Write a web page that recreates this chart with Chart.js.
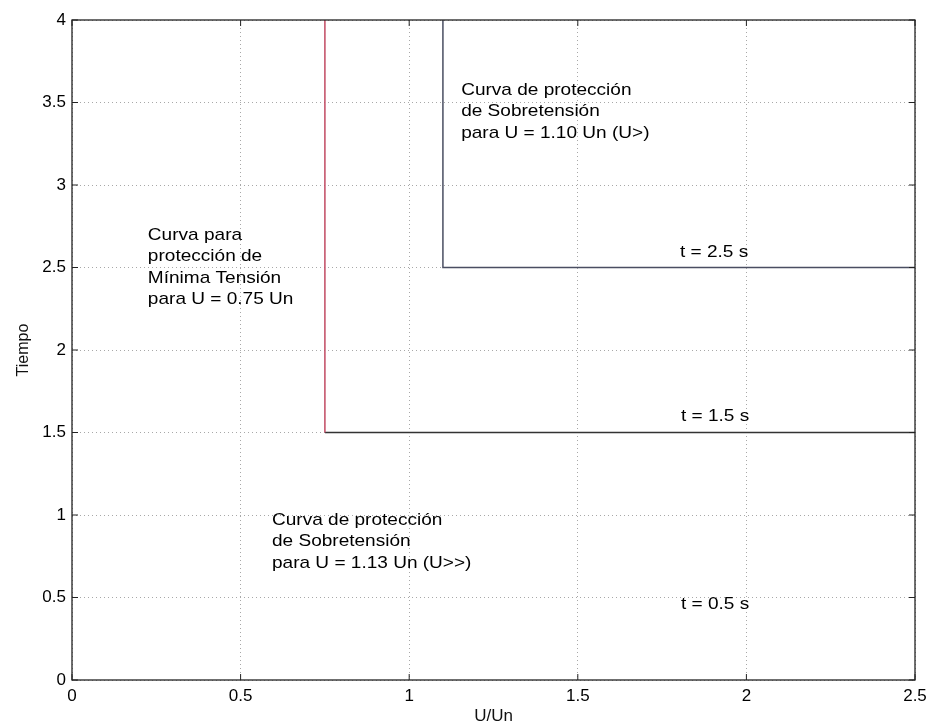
<!DOCTYPE html>
<html>
<head>
<meta charset="utf-8">
<script src="https://cdn.jsdelivr.net/npm/chart.js@4/dist/chart.umd.min.js"></script>
<style>
html,body{margin:0;padding:0;background:#fff;}
#wrap{width:929px;height:727px;}
</style>
</head>
<body>
<div id="wrap"><canvas id="c" width="929" height="727"></canvas></div>
<script>
// Axis ticks
const xTicks = [0, 0.5, 1, 1.5, 2, 2.5];
const yTicks = [0, 0.5, 1, 1.5, 2, 2.5, 3, 3.5, 4];
// Under-voltage curve (U = 0.75 Un): vertical part
const underVoltX = [0.75, 0.75];
const underVoltY = [4, 1.5];
// t = 1.5 s horizontal segment
const t15X = [0.75, 2.5];
const t15Y = [1.5, 1.5];
// Over-voltage curve (U = 1.10 Un, U>)
const overVoltX = [1.1, 1.1, 2.5];
const overVoltY = [4, 2.5, 2.5];

const FONT = "'Liberation Sans', Arial, sans-serif";

function pts(xs, ys){ return xs.map((x,i)=>({x:x, y:ys[i]})); }

const notes = [
  {x:1.154, y:3.576, align:'left', lines:['Curva de protección','de Sobretensión','para U = 1.10 Un (U>)']},
  {x:1.904, y:2.594, align:'center', lines:['t = 2.5 s']},
  {x:0.225, y:2.697, align:'left', lines:['Curva para','protección de','Mínima Tensión','para U = 0.75 Un']},
  {x:1.907, y:1.60, align:'center', lines:['t = 1.5 s']},
  {x:0.593, y:0.970, align:'left', lines:['Curva de protección','de Sobretensión','para U = 1.13 Un (U>>)']},
  {x:1.907, y:0.461, align:'center', lines:['t = 0.5 s']}
];

const framePlugin = {
  id:'frame',
  afterDatasetsDraw(chart){
    const {ctx, chartArea:a, scales} = chart;
    ctx.save();
    ctx.strokeStyle = '#222';
    ctx.lineWidth = 1.3;
    ctx.strokeRect(a.left, a.top, a.right - a.left, a.bottom - a.top);
    // small inward ticks (MATLAB style)
    ctx.lineWidth = 1;
    xTicks.forEach(v=>{
      const px = scales.x.getPixelForValue(v);
      ctx.beginPath(); ctx.moveTo(px, a.bottom); ctx.lineTo(px, a.bottom-6);
      ctx.moveTo(px, a.top); ctx.lineTo(px, a.top+6); ctx.stroke();
    });
    yTicks.forEach(v=>{
      const py = scales.y.getPixelForValue(v);
      ctx.beginPath(); ctx.moveTo(a.left, py); ctx.lineTo(a.left+6, py);
      ctx.moveTo(a.right, py); ctx.lineTo(a.right-6, py); ctx.stroke();
    });
    // annotations
    ctx.fillStyle = '#000';
    ctx.font = '17px ' + FONT;
    ctx.textBaseline = 'middle';
    const sx = 1.12;
    notes.forEach(n=>{
      const px = scales.x.getPixelForValue(n.x);
      const py = scales.y.getPixelForValue(n.y);
      n.lines.forEach((t,i)=>{
        ctx.save();
        ctx.translate(px, py + i*21.5);
        ctx.scale(sx, 1);
        ctx.textAlign = n.align;
        ctx.fillText(t, 0, 0);
        ctx.restore();
      });
    });
    ctx.restore();
  }
};

new Chart(document.getElementById('c'), {
  type:'line',
  data:{
    datasets:[
      {label:'U<', data:pts(underVoltX, underVoltY), borderColor:'#c24a63', borderWidth:1.5, pointRadius:0, fill:false, tension:0},
      {label:'t=1.5', data:pts(t15X, t15Y), borderColor:'#333333', borderWidth:1.5, pointRadius:0, fill:false, tension:0},
      {label:'U>', data:pts(overVoltX, overVoltY), borderColor:'#4a4e62', borderWidth:1.5, pointRadius:0, fill:false, tension:0}
    ]
  },
  options:{
    responsive:false,
    animation:false,
    devicePixelRatio:1,
    layout:{padding:{left:0, right:14, top:20, bottom:0}},
    plugins:{legend:{display:false}, tooltip:{enabled:false}},
    scales:{
      x:{
        type:'linear', min:0, max:2.5,
        afterBuildTicks(s){ s.ticks = xTicks.map(v=>({value:v})); },
        afterFit(s){ s.height = 47; s.paddingLeft = 0; s.paddingRight = 0; },
        grid:{color:'#a8a8a8', lineWidth:1, drawTicks:false},
        border:{display:false, dash:[1,3]},
        ticks:{color:'#000', padding:6, font:{family:FONT, size:17}, maxRotation:0,
          callback:v=>String(v)},
        title:{display:true, text:'U/Un', color:'#111', font:{family:FONT, size:17}, padding:{top:0,bottom:0}}
      },
      y:{
        type:'linear', min:0, max:4,
        afterBuildTicks(s){ s.ticks = yTicks.map(v=>({value:v})); },
        afterFit(s){ s.width = 72; s.paddingTop = 0; s.paddingBottom = 0; },
        grid:{color:'#a8a8a8', lineWidth:1, drawTicks:false},
        border:{display:false, dash:[1,3]},
        ticks:{color:'#000', padding:6, font:{family:FONT, size:17},
          callback:v=>String(v)},
        title:{display:true, text:'Tiempo', color:'#111', font:{family:FONT, size:16}, padding:{top:14,bottom:0}}
      }
    }
  },
  plugins:[framePlugin]
});
</script>
</body>
</html>
